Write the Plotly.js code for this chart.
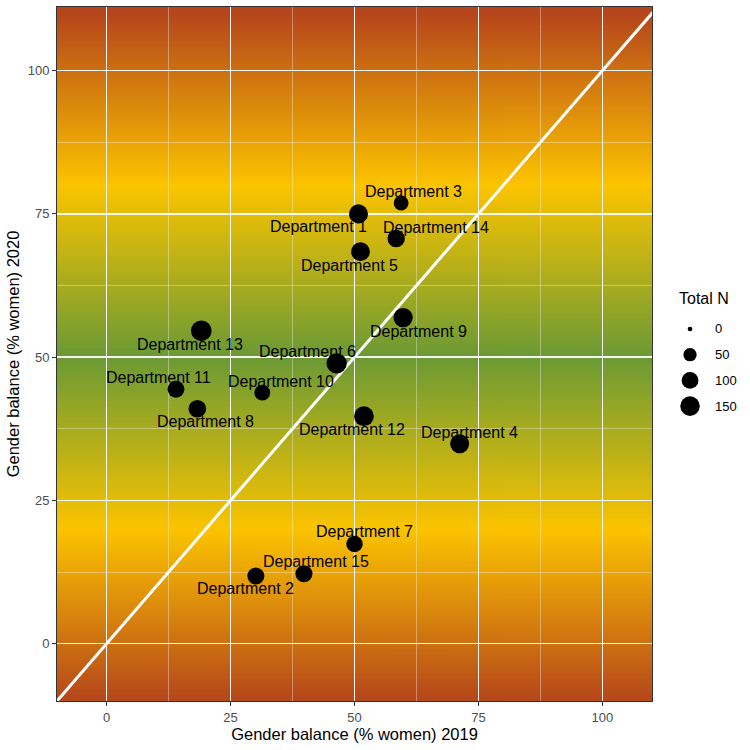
<!DOCTYPE html>
<html>
<head>
<meta charset="utf-8">
<script src="https://cdn.plot.ly/plotly-3.0.1.min.js"></script>
<style>
  html, body { margin: 0; padding: 0; background: #ffffff; }
  #chart { width: 750px; height: 750px; }
</style>
</head>
<body>
<div id="chart"></div>
<script>
// Department gender balance, 2019 vs 2020
const departments = [
  "Department 1", "Department 2", "Department 3", "Department 4", "Department 5",
  "Department 6", "Department 7", "Department 8", "Department 9", "Department 10",
  "Department 11", "Department 12", "Department 13", "Department 14", "Department 15"
];
const pctWomen2019 = [50.8, 30.1, 59.4, 71.2, 51.2, 46.4, 50.0, 18.3, 59.8, 31.4, 14.0, 51.9, 19.1, 58.4, 39.8];
const pctWomen2020 = [75.0, 11.8, 76.9, 34.9, 68.4, 48.9, 17.4, 41.0, 56.9, 43.8, 44.4, 39.7, 54.6, 70.7, 12.2];
const totalN = [140, 105, 70, 140, 135, 165, 95, 115, 145, 85, 100, 155, 175, 110, 105];

// size legend breaks and axis ticks
const sizeBreaks = [0, 50, 100, 150];
const axisTicks = [0, 25, 50, 75, 100];

// background colour ramp along the 2020 axis
const rampStops = [-10, 20, 50, 80, 110];
const rampColors = ["#b5461b", "#fcc400", "#6b9a35", "#fcc400", "#b5461b"];

// label placement (pixel offsets from each point: right, down)
const labelOffsets = [
  [-40, 12.4], [-10.3, 12.6], [12, -11.6], [9.7, -11.6], [-11.3, 14],
  [-29.5, -12.3], [9.5, -12.6], [8.6, 13], [15.3, 13.4], [18.3, -11.6],
  [-17.7, -11.7], [-12.3, 13.3], [-11.3, 13.3], [40, -10.7], [11.9, -12]
];

const X_RANGE = [-10, 110];
const Y_RANGE = [-10, 111.1];
const FONT = "Liberation Sans, Arial, Helvetica, sans-serif";

// area-style size scale: diameter grows with sqrt(N)
const markerDiameter = n => 4.7 + 1.21 * Math.sqrt(n);

function rampImage() {
  const h = 600;
  const c = document.createElement("canvas");
  c.width = 2; c.height = h;
  const ctx = c.getContext("2d");
  const g = ctx.createLinearGradient(0, 0, 0, h);
  const span = Y_RANGE[1] - Y_RANGE[0];
  rampStops.forEach((s, i) => {
    const pos = Math.min(1, Math.max(0, (Y_RANGE[1] - s) / span));
    g.addColorStop(pos, rampColors[i]);
  });
  ctx.fillStyle = g;
  ctx.fillRect(0, 0, 2, h);
  return c.toDataURL("image/png");
}

const mainTrace = {
  type: "scatter",
  mode: "markers",
  x: pctWomen2019,
  y: pctWomen2020,
  text: departments,
  marker: { color: "#000000", opacity: 1, size: totalN.map(markerDiameter), line: { width: 0 } },
  hoverinfo: "text",
  showlegend: false
};

// identity line (no change between years)
const identityLine = {
  type: "scatter",
  mode: "lines",
  x: [X_RANGE[0], Y_RANGE[1]],
  y: [X_RANGE[0], Y_RANGE[1]],
  line: { color: "#ffffff", width: 3 },
  hoverinfo: "skip",
  showlegend: false
};

// size key, drawn on its own small axes to the right of the panel
const keyRows = sizeBreaks.map((_, i) => i);
const sizeKey = {
  type: "scatter",
  mode: "markers",
  xaxis: "x2",
  yaxis: "y2",
  x: sizeBreaks.map(() => 0.432),
  y: keyRows,
  marker: { color: "#000000", opacity: 1, size: sizeBreaks.map(markerDiameter), line: { width: 0 } },
  hoverinfo: "skip",
  showlegend: false
};

const labelAnnotations = departments.map((name, i) => ({
  x: pctWomen2019[i],
  y: pctWomen2020[i],
  xref: "x",
  yref: "y",
  text: name,
  showarrow: false,
  xanchor: "center",
  yanchor: "middle",
  xshift: labelOffsets[i][0],
  yshift: -labelOffsets[i][1],
  font: { family: FONT, size: 16, color: "#000000" }
}));

const keyAnnotations = sizeBreaks.map((b, i) => ({
  x: 0.69,
  y: i,
  xref: "x2",
  yref: "y2",
  text: String(b),
  showarrow: false,
  xanchor: "left",
  yanchor: "middle",
  font: { family: FONT, size: 13, color: "#000000" }
}));
keyAnnotations.push({
  x: 0.28,
  y: -1.2,
  xref: "x2",
  yref: "y2",
  text: "Total N",
  showarrow: false,
  xanchor: "left",
  yanchor: "middle",
  font: { family: FONT, size: 16, color: "#000000" }
});

function axisStyle(range, title) {
  return {
    range: range,
    tickmode: "linear",
    tick0: axisTicks[0],
    dtick: axisTicks[1] - axisTicks[0],
    ticks: "outside",
    ticklen: 4,
    tickwidth: 1,
    tickcolor: "#333333",
    tickfont: { family: FONT, size: 13, color: "#4d4d4d" },
    showline: true,
    linecolor: "#333333",
    linewidth: 1,
    mirror: true,
    showgrid: true,
    gridcolor: "rgba(255,255,255,0.95)",
    gridwidth: 1.5,
    minor: { tickmode: "linear", tick0: 0, dtick: 12.5, showgrid: true, gridcolor: "rgba(255,255,255,0.35)", gridwidth: 1 },
    zeroline: false,
    automargin: true,
    title: { text: title, standoff: 3, font: { family: FONT, size: 16.5, color: "#000000" } }
  };
}

const layout = {
  width: 750,
  height: 750,
  margin: { l: 57, r: 10, t: 7, b: 49 },
  paper_bgcolor: "#ffffff",
  plot_bgcolor: "#ffffff",
  font: { family: FONT },
  xaxis: Object.assign(axisStyle(X_RANGE, "Gender balance (% women) 2019"), { domain: [0, 0.8712] }),
  yaxis: Object.assign(axisStyle(Y_RANGE, "Gender balance (% women) 2020"), { domain: [0, 1] }),
  xaxis2: { domain: [0.8712, 1], range: [0, 1], visible: false, anchor: "y2", fixedrange: true },
  yaxis2: { domain: [0.4049, 0.5994], range: [3.54, -1.71], visible: false, anchor: "x2", fixedrange: true },
  images: [{
    source: rampImage(),
    xref: "x", yref: "y",
    x: X_RANGE[0], y: Y_RANGE[1],
    sizex: X_RANGE[1] - X_RANGE[0],
    sizey: Y_RANGE[1] - Y_RANGE[0],
    xanchor: "left", yanchor: "top",
    sizing: "stretch",
    layer: "below"
  }],
  annotations: labelAnnotations.concat(keyAnnotations),
  showlegend: false
};

Plotly.newPlot("chart", [identityLine, mainTrace, sizeKey], layout, { displayModeBar: false, staticPlot: true });
</script>
</body>
</html>
